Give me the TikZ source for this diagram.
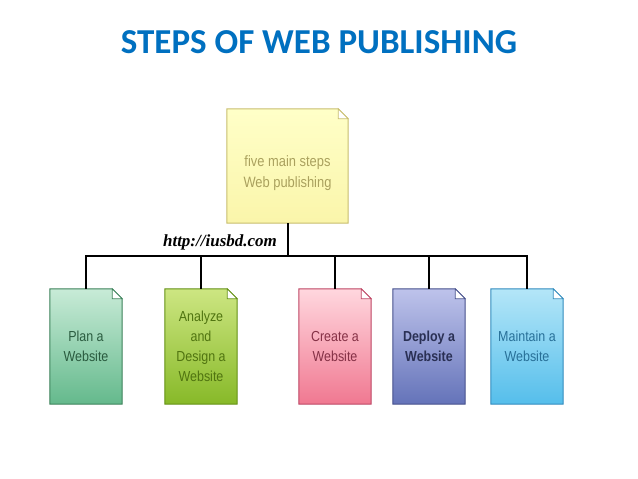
\documentclass[tikz,border=0pt]{standalone}
\usepackage{fontspec}
\setmainfont{Liberation Sans}[FakeStretch=0.86]
\newfontfamily\titlefont{Carlito}
\newfontfamily\urlfont{Liberation Serif}
\usetikzlibrary{calc}
\definecolor{titleblue}{RGB}{0,112,192}
\tikzset{
  docbox/.style={rectangle,inner sep=0pt,align=center,font=\fontsize{14.5}{20}\selectfont},
  conn/.style={draw=black,line width=2pt},
}
\newcommand{\docdraw}[4]{% name, top colour, bottom colour, border
  \shade[top color=#2,bottom color=#3,draw=#4,line width=1pt]
    (#1.north west) -- ($(#1.north east)+(-10,0)$) -- ($(#1.north east)+(0,10)$) -- (#1.south east) -- (#1.south west) -- cycle;
  \draw[#4,line width=0.8pt,fill=white] ($(#1.north east)+(-10,0)$) -- ($(#1.north east)+(-10,10)$) -- ($(#1.north east)+(0,10)$) -- cycle;
}
\definecolor{g1t}{RGB}{200,235,215}\definecolor{g1b}{RGB}{100,185,140}\definecolor{g1d}{RGB}{60,130,90}
\definecolor{g2t}{RGB}{205,230,130}\definecolor{g2b}{RGB}{135,185,40}\definecolor{g2d}{RGB}{100,145,20}
\definecolor{p3t}{RGB}{255,215,222}\definecolor{p3b}{RGB}{240,120,145}\definecolor{p3d}{RGB}{190,70,100}
\definecolor{b4t}{RGB}{190,195,235}\definecolor{b4b}{RGB}{100,115,185}\definecolor{b4d}{RGB}{70,80,140}
\definecolor{c5t}{RGB}{180,230,248}\definecolor{c5b}{RGB}{85,190,235}\definecolor{c5d}{RGB}{50,140,190}
\definecolor{ytop}{RGB}{255,255,200}\definecolor{ybot}{RGB}{250,245,170}\definecolor{yd}{RGB}{200,190,110}
\begin{document}
\begin{tikzpicture}[x=1pt,y=-1pt]
\useasboundingbox[fill=white] (0,0) rectangle (638,479);
\node[font=\titlefont\bfseries\fontsize{35}{40}\selectfont,text=titleblue] (title) at (319,42) {STEPS OF WEB PUBLISHING};
\node[docbox,minimum width=121pt,minimum height=114pt] (top) at (287.5,166) {};
\node[docbox,minimum width=72pt,minimum height=115pt] (b1) at (86,346.5) {};
\node[docbox,minimum width=72pt,minimum height=115pt] (b2) at (201,346.5) {};
\node[docbox,minimum width=72pt,minimum height=115pt] (b3) at (335,346.5) {};
\node[docbox,minimum width=72pt,minimum height=115pt] (b4) at (429,346.5) {};
\node[docbox,minimum width=72pt,minimum height=115pt] (b5) at (527,346.5) {};
\docdraw{top}{ytop}{ybot}{yd}
\docdraw{b1}{g1t}{g1b}{g1d}
\docdraw{b2}{g2t}{g2b}{g2d}
\docdraw{b3}{p3t}{p3b}{p3d}
\docdraw{b4}{b4t}{b4b}{b4d}
\docdraw{b5}{c5t}{c5b}{c5d}
\node[docbox,text=yd!85!black,font=\fontsize{15}{21}\selectfont] at ([yshift=-7]top.center) {five main steps\\Web publishing};
\node[docbox,text=g1d!70!black] at (b1) {Plan a\\Website};
\node[docbox,text=g2d!80!black] at (b2) {Analyze\\and\\Design a\\Website};
\node[docbox,text=p3d!70!black] at (b3) {Create a\\Website};
\node[docbox,text=b4d!60!black,font=\bfseries\fontsize{14.5}{20}\selectfont] at (b4) {Deploy a\\Website};
\node[docbox,text=c5d!80!black] at (b5) {Maintain a\\Website};
\coordinate (hb) at (287.5,256);
\draw[conn] (top.south) -- (hb);
\draw[conn] (b1.north) |- (hb) -| (b5.north);
\draw[conn] (b2.north) -- (b2.north |- hb);
\draw[conn] (b3.north) -- (b3.north |- hb);
\draw[conn] (b4.north) -- (b4.north |- hb);
\node[font=\urlfont\bfseries\itshape\fontsize{17}{20}\selectfont] (url) at (220,242) {http://iusbd.com};
\end{tikzpicture}
\end{document}
